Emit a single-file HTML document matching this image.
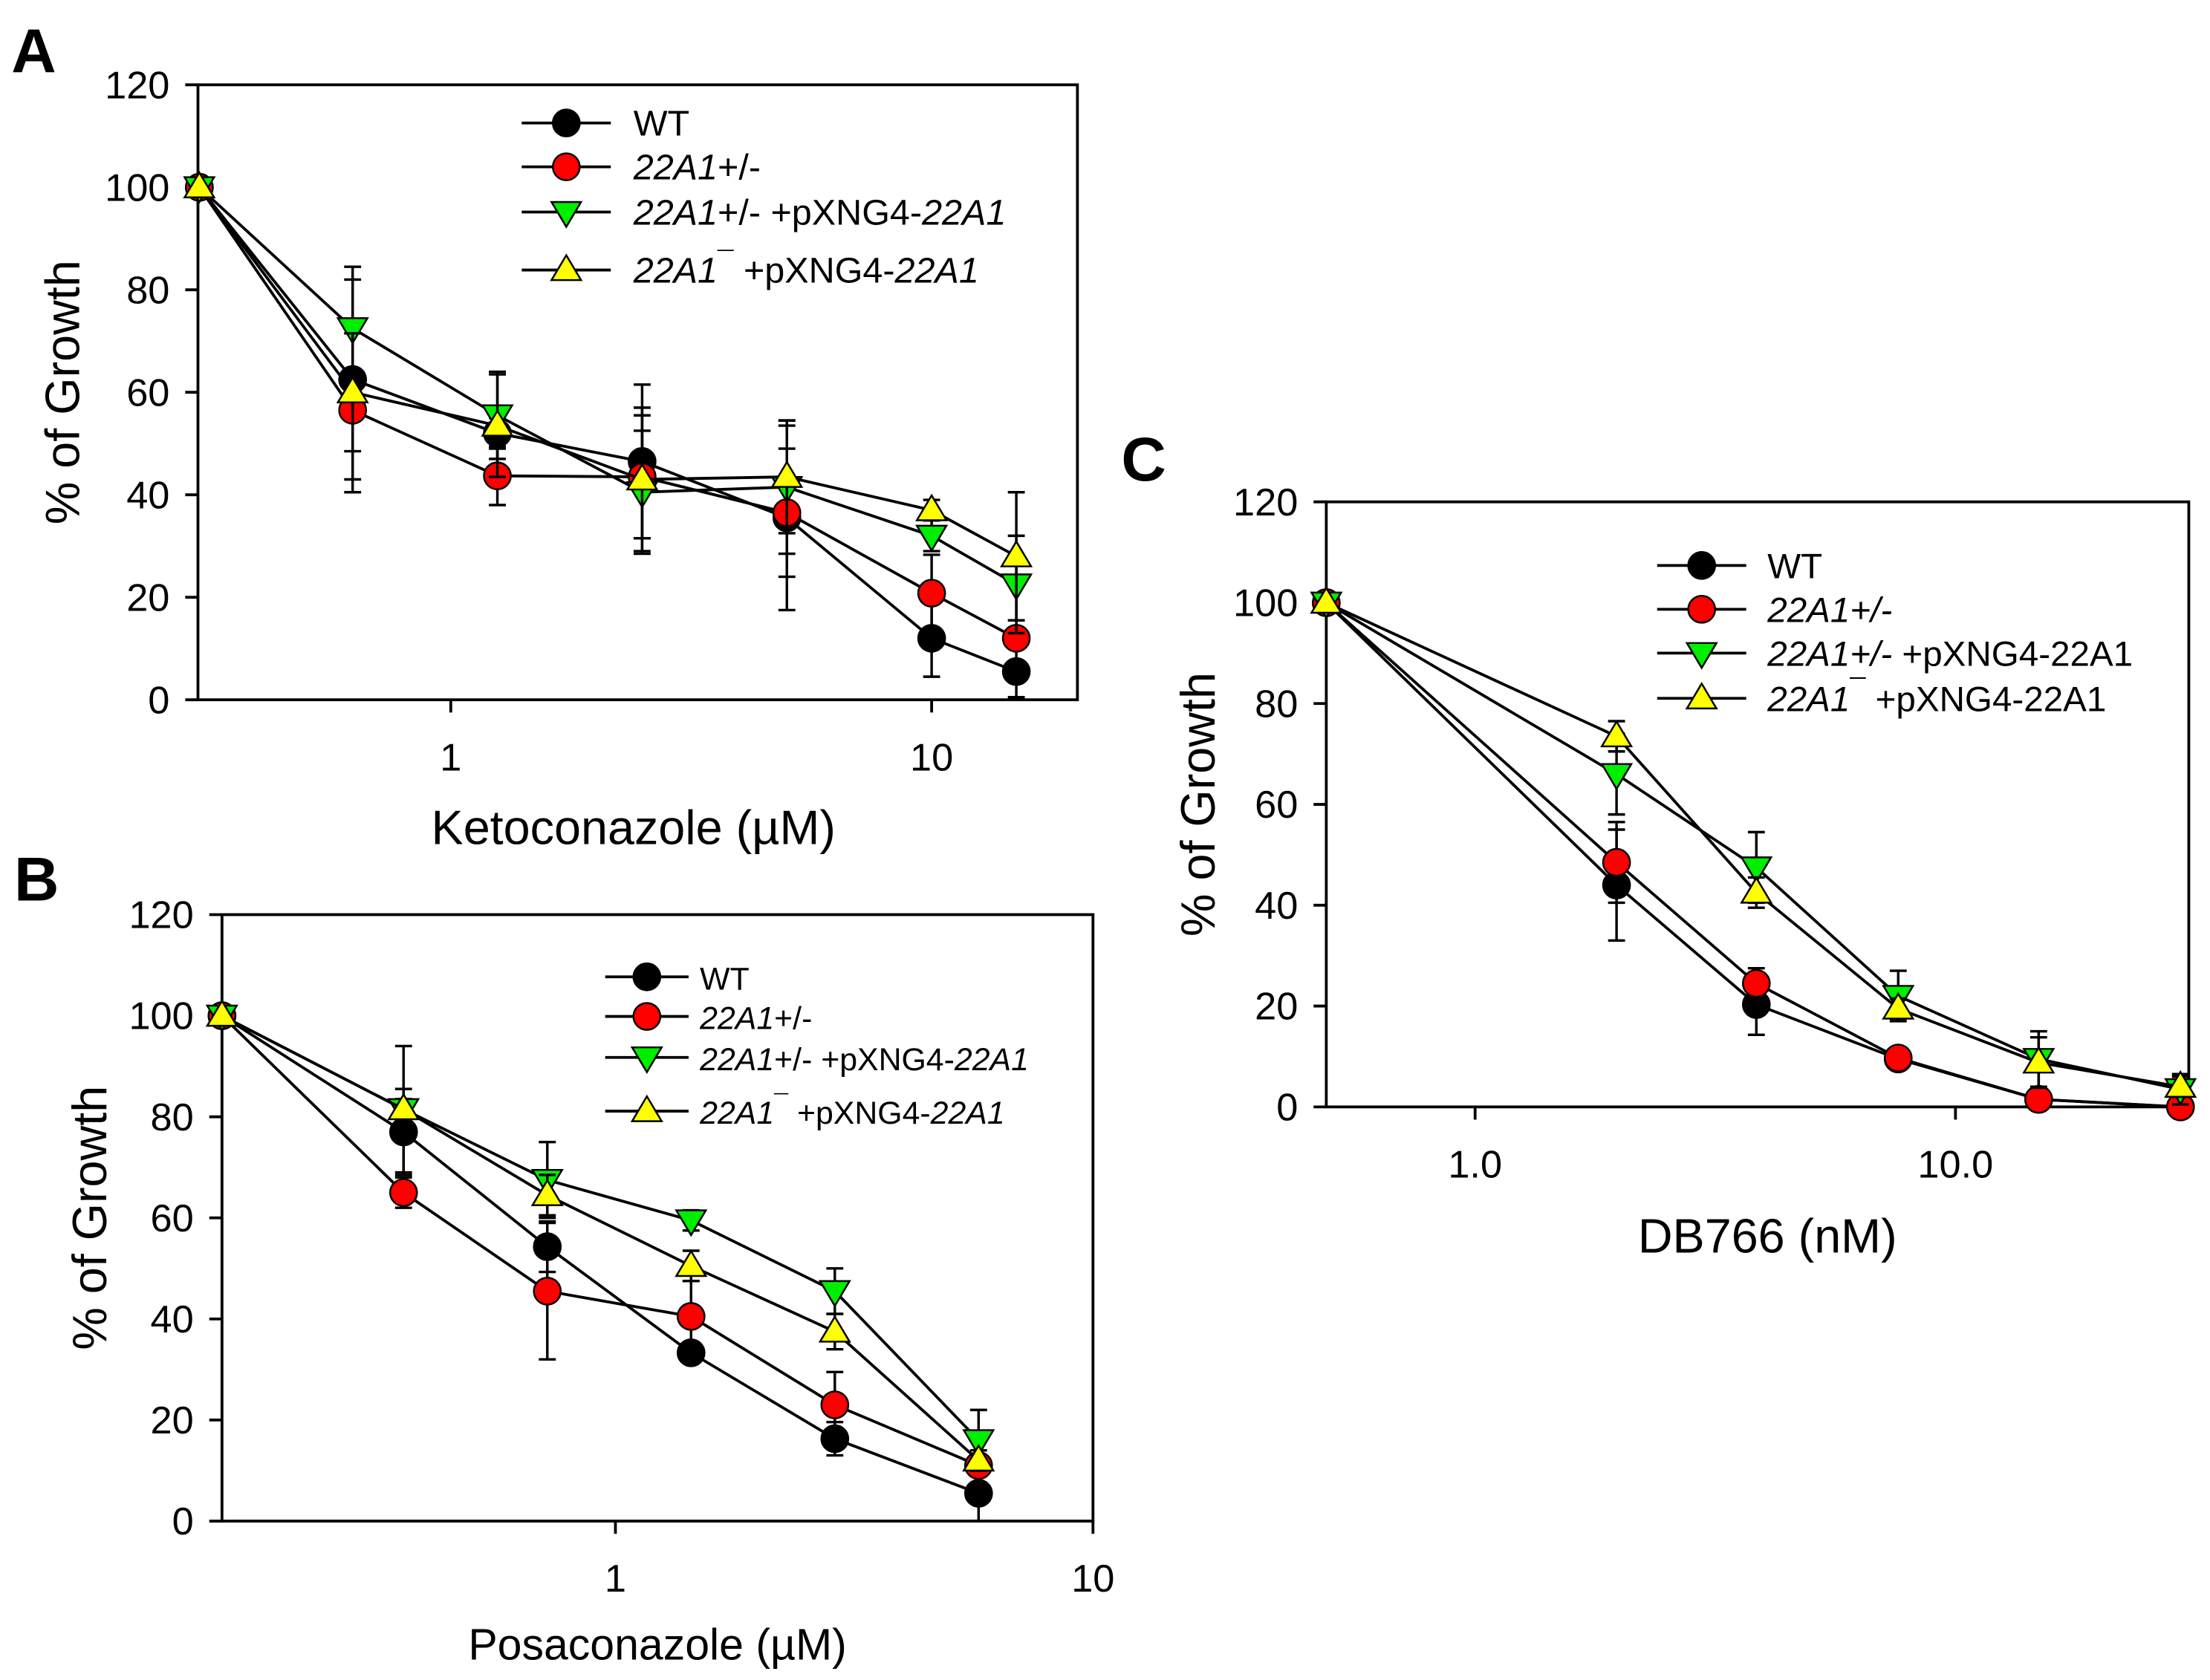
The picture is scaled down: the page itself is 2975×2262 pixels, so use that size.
<!DOCTYPE html>
<html><head><meta charset="utf-8">
<style>
html,body{margin:0;padding:0;background:#fff;}
svg{display:block;}
text{font-family:"Liberation Sans",Arial,sans-serif;fill:#000;}
</style></head>
<body>
<svg id="fig" width="2975" height="2262" viewBox="0 0 1563 1188.4" xmlns="http://www.w3.org/2000/svg">
<rect width="1563" height="1188.4" fill="#fff"/>
</svg>
<script>
// ---- Panel A data (Ketoconazole, µM) ----
const concA = [0.3, 0.625, 1.25, 2.5, 5, 10, 15];
const wtA = [100, 62.5, 52, 46.5, 35.5, 12, 5.5];
const hetA = [100, 56.5, 43.7, 43.5, 36.5, 20.8, 12];
const hetAddA = [100, 72.5, 55.5, 40.5, 41.5, 32, 22.5];
const nullAddA = [100, 60, 53.5, 43, 43.5, 37, 28];
const wtErrA = [0, 19.5, 3, 15, 18, 7.5, 5];
const hetErrA = [0, 16, 5.7, 12, 12.5, 7.5, 2];
const hetAddErrA = [0, 12, 8.5, 12, 13, 3, 9.5];
const nullAddErrA = [0, 11.5, 10, 14, 11, 2, 12.5];
const yTicksA = [0, 20, 40, 60, 80, 100, 120];
const xTicksA = [1, 10];
const xTickLabelsA = ["1", "10"];

// ---- Panel B data (Posaconazole, µM) ----
const concB = [0.15, 0.36, 0.72, 1.44, 2.88, 5.76];
const wtB = [100, 77, 54.3, 33.3, 16.3, 5.5];
const hetB = [100, 65, 45.5, 40.5, 23, 11];
const hetAddB = [100, 81.5, 67.5, 59.5, 45.5, 16];
const nullAddB = [100, 81.5, 64.5, 50.5, 37.5, 12];
const wtErrB = [0, 8.5, 5, 2, 3.3, 5.5];
const hetErrB = [0, 3, 13.5, 7, 6.5, 2];
const hetAddErrB = [0, 2, 7.5, 2, 4.5, 6];
const nullAddErrB = [0, 12.5, 4, 3, 3.5, 2];
const yTicksB = [0, 20, 40, 60, 80, 100, 120];
const xTicksB = [1, 10];
const xTickLabelsB = ["1", "10"];

// ---- Panel C data (DB766, nM) ----
const concC = [0.49, 1.97, 3.85, 7.6, 14.9, 29.4];
const wtC = [100, 44, 20.3, 9.5, 1.5, 0];
const hetC = [100, 48.5, 24.5, 9.7, 1.5, 0];
const hetAddC = [100, 66, 47.5, 22, 9.5, 3.5];
const nullAddC = [100, 73.5, 42.5, 19.5, 8.8, 4];
const wtErrC = [0, 11, 6, 1, 1, 0];
const hetErrC = [0, 8, 3, 1, 1, 0];
const hetAddErrC = [0, 8, 7, 5, 5.5, 3];
const nullAddErrC = [0, 3, 3, 2, 5, 2];
const yTicksC = [0, 20, 40, 60, 80, 100, 120];
const xTicksC = [1, 10];
const xTickLabelsC = ["1.0", "10.0"];

const NS = "http://www.w3.org/2000/svg";
const svg = document.getElementById("fig");
function mk(tag, attrs, parent) {
  const e = document.createElementNS(NS, tag);
  for (const k in attrs) e.setAttribute(k, attrs[k]);
  (parent || svg).appendChild(e);
  return e;
}

function marker(g, kind, cx, cy, r) {
  let e;
  if (kind === "circle") {
    e = mk("circle", {cx: cx, cy: cy, r: r, stroke: "#000", "stroke-width": 1.3}, g);
  } else if (kind === "down") {
    e = mk("polygon", {points: `${cx - r * 1.1},${cy - r * 0.75} ${cx + r * 1.1},${cy - r * 0.75} ${cx},${cy + r * 1.1}`, stroke: "#000", "stroke-width": 1.3}, g);
  } else {
    e = mk("polygon", {points: `${cx - r * 1.1},${cy + r * 0.75} ${cx + r * 1.1},${cy + r * 0.75} ${cx},${cy - r * 1.1}`, stroke: "#000", "stroke-width": 1.3}, g);
  }
  return e;
}

const seriesStyle = [
  {name: "wt", kind: "circle", fill: "#000000"},
  {name: "het", kind: "circle", fill: "#ff0000"},
  {name: "het-add", kind: "down", fill: "#00ee00"},
  {name: "null-add", kind: "up", fill: "#ffff00"}
];

function legendLabel(t, idx, style) {
  const c = style === "c";
  if (idx === 0) { mk("tspan", {}, t).textContent = "WT"; return; }
  mk("tspan", {"font-style": "italic"}, t).textContent = "22A1";
  if (idx === 1) { mk("tspan", {"font-style": c ? "italic" : "normal"}, t).textContent = "+/-"; return; }
  if (idx === 2) {
    mk("tspan", {"font-style": c ? "italic" : "normal"}, t).textContent = "+/-";
    mk("tspan", {"font-style": "normal"}, t).textContent = " +pXNG4-";
  } else {
    mk("tspan", {"dy": -8, "font-size": "0.8em", "font-style": c ? "italic" : "normal"}, t).textContent = "¯";
    mk("tspan", {"dy": 8, "font-style": "normal"}, t).textContent = " +pXNG4-";
  }
  mk("tspan", {"font-style": c ? "normal" : "italic"}, t).textContent = "22A1";
}

function panel(cfg) {
  const g = mk("g", {});
  
  
  const L = cfg.L, R = cfg.R, T = cfg.T, B = cfg.B;
  const lx0 = Math.log10(cfg.xmin), lx1 = Math.log10(cfg.xmax);
  const sx = v => L + (Math.log10(v) - lx0) / (lx1 - lx0) * (R - L);
  const sy = v => B - v / 120 * (B - T);

  const fr = mk("rect", {x: L, y: T, width: R - L, height: B - T, fill: "none", stroke: "#000", "stroke-width": 2}, g);
  
  

  const yax = mk("g", {}, g);
  
  
  cfg.yTicks.forEach(v => {
    mk("line", {x1: L - 9, x2: L, y1: sy(v), y2: sy(v), stroke: "#000", "stroke-width": 2}, yax);
    const t = mk("text", {x: L - 20, y: sy(v) + 9.5, "text-anchor": "end", "font-size": 27.5}, yax);
    
    
    t.textContent = v;
  });
  const xax = mk("g", {}, g);
  
  
  cfg.xTicks.forEach((v, i) => {
    mk("line", {x1: sx(v), x2: sx(v), y1: B, y2: B + 9, stroke: "#000", "stroke-width": 2}, xax);
    const t = mk("text", {x: sx(v), y: B + 50, "text-anchor": "middle", "font-size": 27.5}, xax);
    
    
    t.textContent = cfg.xTickLabels[i];
  });
  const yt = mk("text", {x: 0, y: 0, "text-anchor": "middle", "font-size": 34, transform: `translate(${cfg.ytX},${(T + B) / 2}) rotate(-90)`}, g);
  
  
  yt.textContent = "% of Growth";
  const xt = mk("text", {x: (L + R) / 2 + cfg.xtDx, y: cfg.xtY, "text-anchor": "middle", "font-size": cfg.xtSize}, g);
  
  
  xt.textContent = cfg.xTitle;
  const pl = mk("text", {x: cfg.letterX, y: cfg.letterY, "font-size": 44, "font-weight": "bold"}, g);
  
  
  pl.textContent = cfg.letter;

  cfg.series.forEach((vals, si) => {
    const st = seriesStyle[si];
    const sg = mk("g", {}, g);
    
    
    const pts = cfg.x.map((c, i) => `${sx(c)},${sy(vals[i])}`).join(" ");
    const ln = mk("polyline", {points: pts, fill: "none", stroke: "#000", "stroke-width": 2}, sg);
    
    
    cfg.errs[si].forEach((e, i) => {
      if (!e) return;
      const x = sx(cfg.x[i]);
      const eg = mk("g", {stroke: "#000", "stroke-width": 1.8}, sg);
      
      
      mk("line", {x1: x, x2: x, y1: sy(vals[i] - e), y2: sy(vals[i] + e)}, eg);
      mk("line", {x1: x - 6, x2: x + 6, y1: sy(vals[i] + e), y2: sy(vals[i] + e)}, eg);
      mk("line", {x1: x - 6, x2: x + 6, y1: sy(vals[i] - e), y2: sy(vals[i] - e)}, eg);
    });
    cfg.x.forEach((c, i) => {
      const m = marker(sg, st.kind, sx(c), sy(vals[i]), 9.5);
      m.setAttribute("fill", st.fill);
      
      
    });
  });

  const lg = mk("g", {}, g);
  
  
  cfg.legRows.forEach((ry, i) => {
    const st = seriesStyle[i];
    const eg = mk("g", {}, lg);
    
    
    mk("line", {x1: cfg.legX0, x2: cfg.legX1, y1: ry, y2: ry, stroke: "#000", "stroke-width": 2}, eg);
    const m = marker(eg, st.kind, (cfg.legX0 + cfg.legX1) / 2, ry, 9.5);
    m.setAttribute("fill", st.fill);
    const t = mk("text", {x: cfg.legTX, y: ry + 9, "font-size": cfg.legSize}, eg);
    legendLabel(t, i, cfg.legStyle);
  });
}

panel({name: "panel-a-ketoconazole", L: 140, R: 762, T: 60, B: 495, xmin: 0.298, xmax: 20.1,
  x: concA, series: [wtA, hetA, hetAddA, nullAddA], errs: [wtErrA, hetErrA, hetAddErrA, nullAddErrA],
  yTicks: yTicksA, xTicks: xTicksA, xTickLabels: xTickLabelsA,
  ytX: 56, xTitle: "Ketoconazole (µM)", xtY: 597, xtDx: -3, xtSize: 34, letter: "A", letterX: 8, letterY: 51,
  legRows: [87, 118, 150, 191], legX0: 369, legX1: 432, legTX: 448, legSize: 25.5, legStyle: "a"});
panel({name: "panel-b-posaconazole", L: 157, R: 773, T: 647, B: 1076, xmin: 0.15, xmax: 10,
  x: concB, series: [wtB, hetB, hetAddB, nullAddB], errs: [wtErrB, hetErrB, hetAddErrB, nullAddErrB],
  yTicks: yTicksB, xTicks: xTicksB, xTickLabels: xTickLabelsB,
  ytX: 75, xTitle: "Posaconazole (µM)", xtY: 1174, xtDx: 0, xtSize: 31, letter: "B", letterX: 10, letterY: 637,
  legRows: [691, 719, 748, 786], legX0: 428, legX1: 487, legTX: 495, legSize: 22.5, legStyle: "a"});
panel({name: "panel-c-db766", L: 938, R: 1548, T: 355, B: 783, xmin: 0.49, xmax: 30.6,
  x: concC, series: [wtC, hetC, hetAddC, nullAddC], errs: [wtErrC, hetErrC, hetAddErrC, nullAddErrC],
  yTicks: yTicksC, xTicks: xTicksC, xTickLabels: xTickLabelsC,
  ytX: 859, xTitle: "DB766 (nM)", xtY: 886, xtDx: 7, xtSize: 34, letter: "C", letterX: 793, letterY: 340,
  legRows: [400, 431, 462, 494], legX0: 1172, legX1: 1235, legTX: 1250, legSize: 25, legStyle: "c"});
</script>
</body></html>
